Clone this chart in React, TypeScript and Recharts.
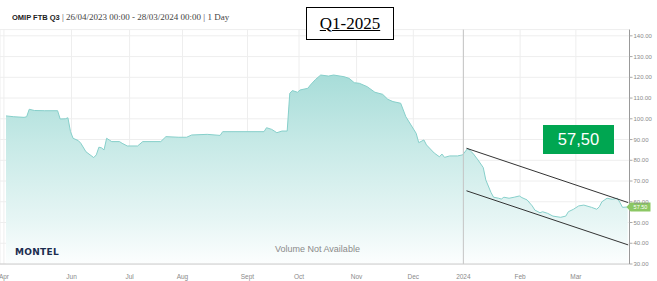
import React from "react";
import {
  AreaChart,
  Area,
  XAxis,
  YAxis,
  CartesianGrid,
  ReferenceLine,
  ReferenceDot,
} from "recharts";

// trading-day index (0 = 26/04/2023, 241 = 28/03/2024)
const dayIndex = [
  0, 3, 7, 8, 9, 11, 15, 20, 21, 23, 24, 25, 26, 28, 29, 31, 34, 35, 36, 37, 38, 39, 40, 41, 44, 45, 47, 51, 53, 60,
  62, 67, 70, 72, 78, 83, 84, 100, 101, 103, 105, 107, 109, 110, 111, 113, 114, 117, 118, 120, 122, 125, 127, 131,
  133, 135, 137, 140, 143, 146, 148, 150, 153, 155, 157, 159, 160, 162, 163, 166, 168, 169, 170, 172, 175, 177, 179,
  180, 181, 183, 185, 186, 188, 189, 191, 192, 193, 195, 197, 199, 200, 202, 204, 205, 207, 208, 210, 212, 215, 217,
  218, 220, 222, 224, 227, 229, 230, 231, 233, 235, 237, 238, 239, 241,
];
const price = [
  101.4, 101.0, 100.7, 101.0, 104.6, 104.0, 103.9, 103.9, 99.9, 100.0, 100.5, 93.8, 90.6, 89.5, 88.2, 84.1, 81.3, 82.6,
  86.3, 86.0, 85.0, 90.6, 89.8, 89.0, 89.0, 88.2, 86.9, 86.9, 89.0, 89.0, 91.4, 91.1, 91.1, 92.2, 92.5, 92.0, 93.8,
  93.8, 95.7, 94.9, 93.3, 94.1, 94.1, 112.3, 113.6, 112.8, 113.9, 114.7, 116.3, 119.0, 121.1, 120.6, 121.1, 120.3,
  119.5, 117.4, 117.1, 115.5, 112.8, 111.8, 109.4, 108.3, 107.5, 101.0, 97.0, 93.0, 88.5, 89.8, 87.4, 83.5, 81.7, 83.0,
  81.4, 82.1, 82.1, 82.6, 85.8, 84.5, 83.4, 80.1, 76.5, 70.5, 64.5, 62.2, 61.7, 61.3, 62.2, 61.7, 62.2, 62.8, 62.0,
  60.9, 58.0, 56.0, 54.7, 55.2, 54.4, 53.1, 52.5, 53.1, 55.2, 56.4, 58.0, 58.4, 57.3, 56.4, 57.6, 60.0, 61.7, 61.2,
  61.7, 59.6, 57.3, 57.5,
];

const monthTicks = [-0.8, 25.4, 47.9, 68.4, 93.6, 113.6, 135.9, 157.9, 177.3, 199.3, 220.9];
const monthLabels = ["Apr", "Jun", "Jul", "Aug", "Sept", "Oct", "Nov", "Dec", "2024", "Feb", "Mar"];
const yTicks = [30, 40, 50, 60, 70, 80, 90, 100, 110, 120, 130, 140];

const trendUpper = [
  { x: 178.5, y: 85.8 },
  { x: 241.2, y: 59.6 },
];
const trendLower = [
  { x: 178.5, y: 65.3 },
  { x: 241.2, y: 39.2 },
];
const lastPrice = 57.5;
const lastPriceText = "57.50";
const annotationText = "57,50";
const periodLabel = "Q1-2025";
const cursorDay = 177.3;

const data = dayIndex.map((d, i) => ({ day: d, price: price[i] }));

const PriceFlag = (props: any) => {
  const { cx, cy } = props;
  if (cx == null || cy == null) return null;
  const x0 = cx - 3;
  return (
    <g>
      <path
        d={`M${x0},${cy} L${x0 + 4},${cy - 4.5} L${x0 + 24},${cy - 4.5} L${x0 + 24},${cy + 4.5} L${x0 + 4},${cy + 4.5} Z`}
        fill="#8cc764"
      />
      <text
        x={x0 + 14}
        y={cy + 2}
        textAnchor="middle"
        fontSize={5.5}
        fill="#ffffff"
        fontFamily="Liberation Sans, Arial, sans-serif"
      >
        {lastPriceText}
      </text>
    </g>
  );
};

export default function App() {
  return (
    <div
      style={{
        position: "absolute",
        left: 0,
        top: 0,
        width: 657,
        height: 281,
        background: "#ffffff",
        overflow: "hidden",
      }}
    >
      <AreaChart
        width={657}
        height={281}
        data={data}
        margin={{ top: 29.6, right: 0, left: 0, bottom: 0 }}
      >
        <defs>
          <linearGradient id="fillGrad" gradientUnits="userSpaceOnUse" x1="0" y1="29" x2="0" y2="264">
            <stop offset="0" stopColor="#97d5d0" />
            <stop offset="0.2" stopColor="#a8ddd9" />
            <stop offset="0.5" stopColor="#c8eae7" />
            <stop offset="0.8" stopColor="#e5f5f4" />
            <stop offset="1" stopColor="#fcfefe" />
          </linearGradient>
        </defs>
        <CartesianGrid stroke="#eeeeee" strokeWidth={1} />
        <XAxis
          dataKey="day"
          type="number"
          domain={[-2.33, 241.7]}
          ticks={monthTicks}
          tickFormatter={(v: number) => monthLabels[monthTicks.indexOf(v)] ?? ""}
          allowDataOverflow
          height={17}
          tickLine={false}
          tickMargin={4}
          axisLine={{ stroke: "#cccccc" }}
          tick={{ fontSize: 6.5, fill: "#8a8a8a", fontFamily: "Liberation Sans, Arial, sans-serif" }}
          interval={0}
        />
        <YAxis
          orientation="right"
          domain={[30, 143]}
          ticks={yTicks}
          allowDataOverflow
          width={27.5}
          tickSize={3}
          tickMargin={1}
          tickLine={{ stroke: "#aaaaaa" }}
          axisLine={{ stroke: "#999999" }}
          tickFormatter={(v: number) => v.toFixed(2)}
          tick={{ fontSize: 6, fill: "#8a8a8a", fontFamily: "Liberation Sans, Arial, sans-serif" }}
          interval={0}
        />
        <ReferenceLine x={cursorDay} stroke="#c4c4c4" strokeWidth={1} />
        <Area
          type="linear"
          dataKey="price"
          stroke="#86cfca"
          strokeWidth={1}
          fill="url(#fillGrad)"
          fillOpacity={1}
          dot={false}
          activeDot={false}
          isAnimationActive={false}
        />
        <ReferenceLine segment={trendUpper} stroke="#333333" strokeWidth={1} ifOverflow="visible" />
        <ReferenceLine segment={trendLower} stroke="#333333" strokeWidth={1} ifOverflow="visible" />
        <ReferenceDot x={241.7} y={lastPrice} ifOverflow="visible" shape={PriceFlag} />
      </AreaChart>

      <div
        style={{
          position: "absolute",
          left: 12,
          top: 9,
          whiteSpace: "nowrap",
          lineHeight: "12px",
          color: "#222",
        }}
      >
        <span style={{ fontFamily: "Liberation Sans, Arial, sans-serif", fontWeight: 700, fontSize: 7.5 }}>
          OMIP FTB Q3
        </span>
        <span style={{ fontFamily: "Liberation Serif, serif", fontSize: 9, color: "#444" }}>
          {" | 26/04/2023 00:00 - 28/03/2024 00:00 | 1 Day"}
        </span>
      </div>

      <div
        style={{
          position: "absolute",
          left: 306,
          top: 7,
          width: 86,
          height: 31,
          border: "1.5px solid #000",
          background: "#fff",
          display: "flex",
          alignItems: "center",
          justifyContent: "center",
          fontFamily: "Liberation Serif, serif",
          fontSize: 17,
          textDecoration: "underline",
          color: "#000",
        }}
      >
        {periodLabel}
      </div>

      <div
        style={{
          position: "absolute",
          left: 543,
          top: 125,
          width: 71,
          height: 29,
          background: "#00a651",
          display: "flex",
          alignItems: "center",
          justifyContent: "center",
          fontFamily: "Liberation Sans, Arial, sans-serif",
          fontSize: 16.5,
          color: "#ffffff",
        }}
      >
        {annotationText}
      </div>

      <div
        style={{
          position: "absolute",
          left: 15,
          top: 247,
          fontFamily: "DejaVu Sans, sans-serif",
          fontWeight: 900,
          fontSize: 9,
          letterSpacing: 0.3,
          color: "#1b2d4f",
          lineHeight: "10px",
        }}
      >
        MONTEL
      </div>

      <div
        style={{
          position: "absolute",
          left: 275,
          top: 244,
          fontFamily: "Liberation Sans, Arial, sans-serif",
          fontSize: 9,
          color: "#8a8a8a",
          lineHeight: "11px",
          whiteSpace: "nowrap",
        }}
      >
        Volume Not Available
      </div>
    </div>
  );
}
